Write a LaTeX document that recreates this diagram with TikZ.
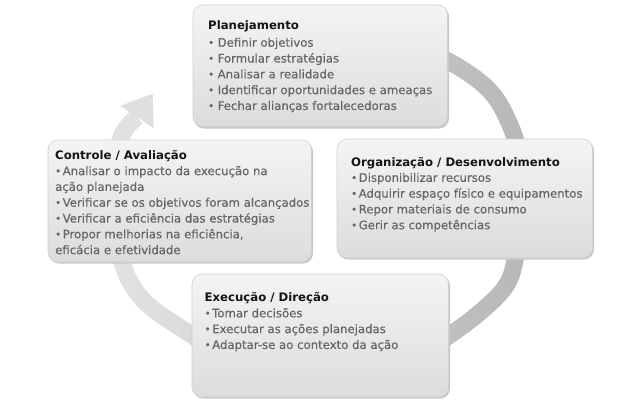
\documentclass[tikz,border=0pt]{standalone}
\usepackage{fontspec}
\setmainfont{DejaVu Sans}
\newfontfamily\bodyfont[FakeBold=0.5]{DejaVu Sans}
\definecolor{bodygray}{HTML}{666666}
\definecolor{titleblack}{HTML}{151515}
\definecolor{boxtop}{HTML}{F4F4F4}
\definecolor{boxbot}{HTML}{DCDCDC}
\definecolor{boxline}{HTML}{D0D0D0}
\definecolor{shadowc}{HTML}{C8C8C8}
\newcommand\mybul[1][7.5pt]{\makebox[#1][l]{\raisebox{0.5pt}{\fontsize{10}{10}\selectfont •}}}
\newcommand\titlef{\color{titleblack}\normalfont\bfseries}
\tikzset{
  boxshape/.style={rounded corners=10pt, top color=boxtop, bottom color=boxbot, draw=boxline, line width=0.6pt},
  shadowshape/.style={rounded corners=10pt, fill=shadowc},
  txt/.style={anchor=base west, inner sep=0pt, font=\bodyfont\fontsize{11.7}{15.8}\selectfont, text=bodygray},
  ring/.style={line width=17pt, line cap=butt, line join=round}
}
\begin{document}
\begin{tikzpicture}[x=1pt,y=-1pt]
\useasboundingbox (0,0) rectangle (640,400);
\fill[white] (0,0) rectangle (640,400);
% circular arrow with horizontal gradient
\foreach \i in {0,...,44}{
  \pgfmathsetmacro\xa{100+10*\i}
  \pgfmathsetmacro\pc{11+17*min(1,max(0,(\xa+5-110)/420))}
  \begin{scope}
    \clip (\xa-0.6,-5) rectangle (\xa+10.6,405);
    \draw[ring, draw=black!\pc] plot[smooth,tension=0.55] coordinates {(400,38) (457,66) (495,97) (518,148) (522,200) (516,255) (503,290) (457,330) (400,362) (319,374) (240,362) (184,330) (143,300) (122,262) (114,200) (120,140) (137,117)};
  \end{scope}
}
\fill[black!12.5] (120.4,105.8) -- (152.7,93.8) -- (153.6,128.2) -- cycle;
% boxes
\fill[shadowshape] (194,6.5) rectangle (449,128.5);
\draw[boxshape] (193,5) rectangle (447.5,126.5);
\fill[shadowshape] (49,141.5) rectangle (313,263.5);
\draw[boxshape] (48,140) rectangle (311.5,262);
\fill[shadowshape] (338,140.5) rectangle (594,259.5);
\draw[boxshape] (337,139) rectangle (592.5,258);
\fill[shadowshape] (193,275.5) rectangle (450,398.5);
\draw[boxshape] (192,274) rectangle (448.5,397);
% texts
\node[txt] (plan) at (208,29.3) {\vtop{\baselineskip=15.8pt
  \hbox{\titlef Planejamento}\vskip1.6pt
  \hbox{\mybul[9.5pt]Definir objetivos}
  \hbox{\mybul[9.5pt]Formular estratégias}
  \hbox{\mybul[9.5pt]Analisar a realidade}
  \hbox{\mybul[9.5pt]Identificar oportunidades e ameaças}
  \hbox{\mybul[9.5pt]Fechar alianças fortalecedoras}}};
\node[txt] (ctrl) at (55,159.3) {\vtop{\baselineskip=15.8pt
  \hbox{\titlef Controle / Avaliação}\vskip0pt
  \hbox{\mybul Analisar o impacto da execução na}
  \hbox{ação planejada}
  \hbox{\mybul Verificar se os objetivos foram alcançados}
  \hbox{\mybul Verificar a eficiência das estratégias}
  \hbox{\mybul Propor melhorias na eficiência,}
  \hbox{eficácia e efetividade}}};
\node[txt] (org) at (351,166) {\vtop{\baselineskip=15.8pt
  \hbox{\titlef Organização / Desenvolvimento}\vskip0pt
  \hbox{\mybul Disponibilizar recursos}
  \hbox{\mybul Adquirir espaço físico e equipamentos}
  \hbox{\mybul Repor materiais de consumo}
  \hbox{\mybul Gerir as competências}}};
\node[txt] (exec) at (204.5,301.5) {\vtop{\baselineskip=15.8pt
  \hbox{\titlef Execução / Direção}\vskip0pt
  \hbox{\mybul Tomar decisões}
  \hbox{\mybul Executar as ações planejadas}
  \hbox{\mybul Adaptar-se ao contexto da ação}}};
\end{tikzpicture}
\end{document}
